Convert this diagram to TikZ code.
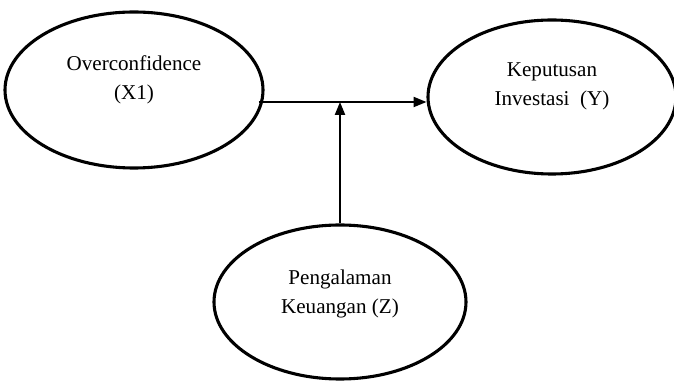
\documentclass[tikz,border=0pt]{standalone}
\usepackage{fontspec}
\setmainfont{Liberation Serif}
\usetikzlibrary{shapes.geometric,arrows.meta}
\begin{document}
\begin{tikzpicture}[
		var/.style={draw,ellipse,line width=2.2pt,inner sep=0pt},
		txt/.style={align=center,font=\fontsize{15}{20.6}\selectfont},
		conn/.style={line width=1.3pt,-{Triangle[length=0.32cm,width=0.25cm]}}
	]
		\useasboundingbox (0,0) rectangle (16.85,9.525);
		\node[var,minimum width=6.45cm,minimum height=3.9cm] (x1) at (3.35,7.275) {};
		\node[var,minimum width=6.2cm,minimum height=3.85cm] (y) at (13.8,7.1) {};
		\node[var,minimum width=6.3cm,minimum height=3.85cm] (z) at (8.5,1.975) {};
		\node[txt,yshift=0.25cm] (x1t) at (x1) {Overconfidence\\(X1)};
		\node[txt,yshift=0.26cm] (yt) at (y) {Keputusan\\Investasi~ (Y)};
		\node[txt,yshift=0.2cm] (zt) at (z) {Pengalaman\\Keuangan (Z)};
		\coordinate (m) at (8.5,6.975);
		\draw[conn] ([xshift=-0.15cm]x1.east |- m) -- (y.west |- m);
		\draw[conn] (z.north) -- (m);
	\end{tikzpicture}
\end{document}
